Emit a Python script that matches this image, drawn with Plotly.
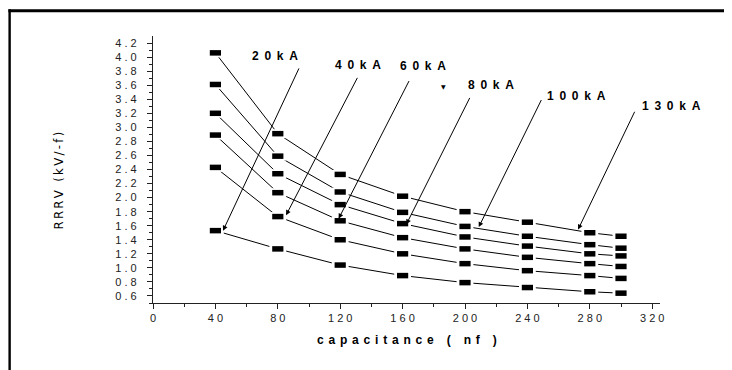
import plotly.graph_objects as go

# ---------------- data ----------------
capacitance = [40, 80, 120, 160, 200, 240, 280, 300]
series_names = ["130kA", "100kA", "80kA", "60kA", "40kA", "20kA"]
rrrv_130 = [4.06, 2.91, 2.33, 2.02, 1.80, 1.65, 1.50, 1.45]
rrrv_100 = [3.61, 2.59, 2.08, 1.79, 1.59, 1.45, 1.33, 1.28]
rrrv_80 = [3.20, 2.34, 1.90, 1.63, 1.44, 1.31, 1.20, 1.17]
rrrv_60 = [2.89, 2.07, 1.67, 1.43, 1.27, 1.15, 1.06, 1.02]
rrrv_40 = [2.43, 1.73, 1.40, 1.20, 1.06, 0.96, 0.89, 0.85]
rrrv_20 = [1.53, 1.27, 1.04, 0.89, 0.79, 0.72, 0.66, 0.64]
all_series = [rrrv_130, rrrv_100, rrrv_80, rrrv_60, rrrv_40, rrrv_20]

x_tickvals = [0, 40, 80, 120, 160, 200, 240, 280, 320]
y_tickvals = [0.6, 0.8, 1.0, 1.2, 1.4, 1.6, 1.8, 2.0, 2.2, 2.4, 2.6, 2.8,
              3.0, 3.2, 3.4, 3.6, 3.8, 4.0, 4.2]

# label text, label position, arrow tail, arrow tip (data coords)
labels = ["20kA", "40kA", "60kA", "80kA", "100kA", "130kA"]
label_x = [78.5, 131.2, 173.2, 216.8, 271.5, 332.2]
label_y = [4.01, 3.89, 3.866, 3.598, 3.439, 3.307]
tail_x = [94.0, 131.5, 164.6, 203.5, 249.4, 309.2]
tail_y = [3.86, 3.726, 3.68, 3.44, 3.41, 3.243]
tip_x = [44.9, 85.3, 119.0, 162.4, 208.8, 272.5]
tip_y = [1.53, 1.75, 1.70, 1.62, 1.58, 1.546]

X_RANGE = [0, 325]
Y_RANGE = [0.5, 4.3]


def spaced(s, gap):
    return gap.join(list(s))


fig = go.Figure()

for name, vals in zip(series_names, all_series):
    fig.add_trace(go.Scatter(x=capacitance, y=vals, mode="lines",
                             line=dict(color="black", width=1),
                             showlegend=False, hoverinfo="skip"))
for name, vals in zip(series_names, all_series):
    fig.add_trace(go.Scatter(x=capacitance, y=vals, mode="markers",
                             marker=dict(symbol="line-ew", size=12, color="white",
                                         line=dict(color="white", width=9)),
                             showlegend=False, hoverinfo="skip"))
for name, vals in zip(series_names, all_series):
    fig.add_trace(go.Scatter(x=capacitance, y=vals, mode="markers", name=name,
                             marker=dict(symbol="line-ew", size=8, color="black",
                                         line=dict(color="black", width=5.5)),
                             showlegend=False))

annotations = []
for lab, lx, ly, tx, ty, px, py in zip(labels, label_x, label_y, tail_x, tail_y, tip_x, tip_y):
    annotations.append(dict(x=px, y=py, xref="x", yref="y", ax=tx, ay=ty,
                            axref="x", ayref="y", text="", showarrow=True,
                            arrowhead=2, arrowsize=1, arrowwidth=1, arrowcolor="black"))
    annotations.append(dict(x=(lx - X_RANGE[0]) / (X_RANGE[1] - X_RANGE[0]),
                            y=(ly - Y_RANGE[0]) / (Y_RANGE[1] - Y_RANGE[0]),
                            xref="paper", yref="paper", showarrow=False,
                            xanchor="center", yanchor="middle",
                            text=spaced(lab, "\u00a0\u2009"),
                            font=dict(family="Arial", size=12, color="black", weight="bold")))

annotations.append(dict(x=186, y=3.58, xref="x", yref="y", showarrow=False, text="\u25bc",
                        xanchor="center", yanchor="middle",
                        font=dict(family="DejaVu Sans", size=6, color="black")))

# axis titles
annotations.append(dict(x=0.5, y=-0.137, xref="paper", yref="paper", showarrow=False,
                        xanchor="center", yanchor="middle",
                        text=spaced("capacitance ( nf )", "\u2009\u2009"),
                        font=dict(family="Arial", size=12, color="black", weight="bold")))
annotations.append(dict(x=-0.1866, y=0.46, xref="paper", yref="paper", showarrow=False,
                        xanchor="center", yanchor="middle", textangle=-90,
                        text=spaced("RRRV (kV/-f)", "\u2009"),
                        font=dict(family="DejaVu Sans Condensed, Liberation Sans Narrow, sans-serif",
                                  size=13, color="black")))

fig.update_layout(
    width=724, height=362,
    margin=dict(l=144.6, r=72.4, t=28.3, b=66.7, autoexpand=False),
    paper_bgcolor="white", plot_bgcolor="white",
    annotations=annotations,
    shapes=[
        dict(type="line", xref="paper", yref="paper", x0=-0.2852, x1=1.2,
             y0=1.0948, y1=1.0948, line=dict(color="black", width=3)),
        dict(type="line", xref="paper", yref="paper", x0=-0.2828, x1=-0.2828,
             y0=1.1, y1=-0.3, line=dict(color="black", width=2.4)),
    ],
)

fig.update_xaxes(range=X_RANGE, showgrid=False, zeroline=False,
                 showline=True, linecolor="#222", linewidth=1.2,
                 ticks="outside", ticklen=5, tickwidth=1, tickcolor="#222",
                 tickmode="array", tickvals=x_tickvals,
                 ticktext=[spaced(str(v), "\u00a0") for v in x_tickvals],
                 tickfont=dict(family="Arial", size=11, color="#222"),
                 minor=dict(tickvals=[20, 60, 100, 140, 180, 220, 260, 300],
                            ticks="outside", ticklen=3, tickcolor="#222"))
fig.update_yaxes(range=Y_RANGE, showgrid=False, zeroline=False,
                 showline=True, linecolor="#222", linewidth=1.2,
                 ticks="outside", ticklen=5, tickwidth=1, tickcolor="#222",
                 tickmode="array", tickvals=y_tickvals,
                 ticktext=[spaced(f"{v:.1f}", "\u00a0") for v in y_tickvals],
                 tickfont=dict(family="Arial", size=11, color="#222"),
                 ticklabelstandoff=8,
                 minor=dict(tickvals=[0.5 + 0.2 * i for i in range(19)],
                            ticks="outside", ticklen=3, tickcolor="#222"))

fig.write_html("out.html")
